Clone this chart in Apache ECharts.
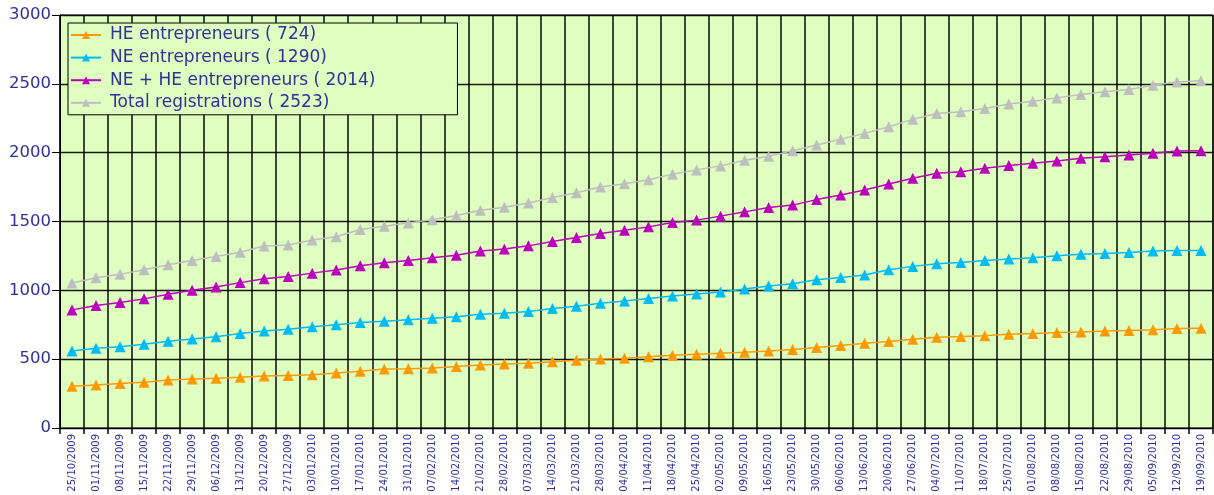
<!DOCTYPE html>
<html><head><meta charset="utf-8">
<script src="https://cdn.jsdelivr.net/npm/echarts@6/dist/echarts.min.js"></script>
<style>html,body{margin:0;padding:0;background:#fff}#c{width:1214px;height:495px}</style>
</head><body><div id="c"></div>
<script>
const categories = ["25/10/2009","01/11/2009","08/11/2009","15/11/2009","22/11/2009","29/11/2009","06/12/2009","13/12/2009","20/12/2009","27/12/2009","03/01/2010","10/01/2010","17/01/2010","24/01/2010","31/01/2010","07/02/2010","14/02/2010","21/02/2010","28/02/2010","07/03/2010","14/03/2010","21/03/2010","28/03/2010","04/04/2010","11/04/2010","18/04/2010","25/04/2010","02/05/2010","09/05/2010","16/05/2010","23/05/2010","30/05/2010","06/06/2010","13/06/2010","20/06/2010","27/06/2010","04/07/2010","11/07/2010","18/07/2010","25/07/2010","01/08/2010","08/08/2010","15/08/2010","22/08/2010","29/08/2010","05/09/2010","12/09/2010","19/09/2010"];
const heValues = [303,313,323,333,348,356,361,368,378,382,386,399,413,428,431,436,446,457,464,471,481,493,502,507,517,529,536,543,551,560,570,584,599,616,628,645,659,664,671,681,686,693,698,705,708,713,722,724];
const neValues = [560,579,591,608,630,646,663,687,704,718,735,750,766,776,786,797,808,827,834,846,868,885,906,923,940,959,974,988,1010,1031,1048,1077,1094,1111,1150,1174,1193,1203,1217,1227,1237,1251,1263,1268,1275,1285,1290,1290];
const neHeValues = [858,890,911,938,971,1000,1024,1056,1084,1101,1125,1147,1178,1200,1216,1237,1255,1286,1301,1323,1354,1383,1413,1437,1461,1493,1510,1539,1570,1602,1619,1659,1693,1729,1773,1814,1850,1862,1886,1906,1923,1940,1959,1971,1983,1995,2012,2014];
const totalValues = [1053,1092,1116,1150,1186,1217,1245,1276,1322,1329,1365,1389,1442,1466,1490,1513,1544,1582,1603,1635,1675,1709,1750,1775,1804,1844,1875,1904,1945,1974,2014,2056,2097,2140,2188,2242,2285,2297,2321,2353,2374,2398,2423,2442,2459,2490,2514,2523];
const yTicks = [0,500,1000,1500,2000,2500,3000];
const seriesNames = ["HE entrepreneurs ( 724)","NE entrepreneurs ( 1290)","NE + HE entrepreneurs ( 2014)","Total registrations ( 2523)"];
const seriesColors = ["#FF9900","#00BBF5","#BB00BB","#BEBEBE"];
const seriesData = [heValues, neValues, neHeValues, totalValues];

const labelColor = "#30309A";
const font = 'DejaVu Sans, Verdana, sans-serif';
const chart = echarts.init(document.getElementById('c'), null, {renderer:'canvas'});
chart.setOption({
  animation:false,
  backgroundColor:'#ffffff',
  grid:{left:60,right:1,top:15,bottom:67,containLabel:false,outerBoundsMode:'none',show:true,backgroundColor:'#DEFFBF',borderColor:'#000',borderWidth:1},
  legend:{
    orient:'vertical', left:68, top:23,
    backgroundColor:'#DEFFBF', borderColor:'#000', borderWidth:1,
    padding:[3,82,3,2], itemGap:4.6, itemWidth:30, itemHeight:10,
    textStyle:{color:labelColor,fontSize:17,fontFamily:font,lineHeight:18,padding:[0,0,0,4]},
    data:seriesNames
  },
  xAxis:{
    type:'category', data:categories, boundaryGap:true,
    axisLine:{lineStyle:{color:'#000',width:1}},
    axisTick:{show:true,length:6,lineStyle:{color:'#000',width:1.5}},
    splitLine:{show:true,lineStyle:{color:'#000',width:1.6,opacity:0.9}},
    axisLabel:{rotate:90,interval:0,fontSize:10,color:labelColor,fontFamily:font,margin:6}
  },
  yAxis:{
    type:'value', min:0, max:3000, interval:500,
    axisLine:{show:true,lineStyle:{color:'#000',width:1}},
    axisTick:{show:true,length:8,lineStyle:{color:'#000',width:1}},
    splitLine:{show:true,lineStyle:{color:'#000',width:1.3,opacity:0.9}},
    axisLabel:{fontSize:16.5,color:labelColor,fontFamily:font,margin:9,formatter:v=>String(v)}
  },
  series: seriesData.map((d,i)=>({
    name:seriesNames[i], type:'line', data:d,
    symbol:'triangle', symbolSize:11, showSymbol:true,
    lineStyle:{color:seriesColors[i],width:1.5},
    itemStyle:{color:seriesColors[i]}
  }))
});
</script></body></html>
